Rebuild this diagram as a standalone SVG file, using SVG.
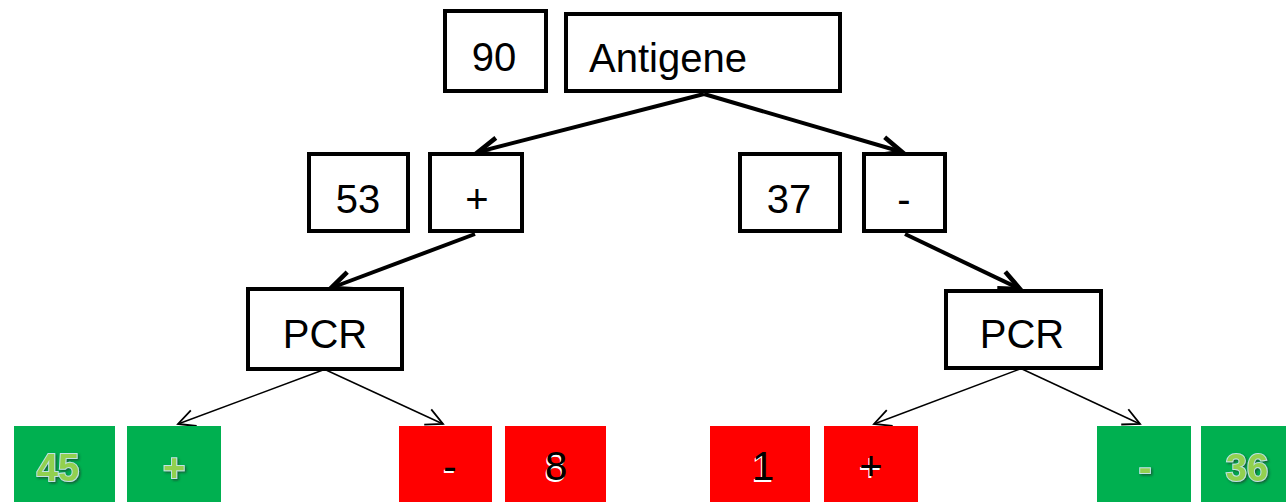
<svg xmlns="http://www.w3.org/2000/svg" width="1286" height="502" viewBox="0 0 1286 502">
  <defs>
    <style>
      .box { fill: #ffffff; stroke: #000000; stroke-width: 4; }
      .lbl { font-family: "Liberation Sans", Arial, sans-serif; font-size: 40px; fill: #000000; }
      .mid { text-anchor: middle; }
      .pos { fill: #00B050; }
      .neg { fill: #FF0000; }
      .gtxt { font-family: "Liberation Sans", Arial, sans-serif; font-size: 38px; font-weight: bold; text-anchor: middle; fill: #92D050; stroke: #BFE3E6; stroke-width: 2; paint-order: stroke; filter: url(#shadow); }
      .rtxt { font-family: "Liberation Sans", Arial, sans-serif; font-size: 40px; text-anchor: middle; fill: #000000; }
      .rsh { font-family: "Liberation Sans", Arial, sans-serif; font-size: 40px; text-anchor: middle; fill: #ffffff; }
      .thick { stroke: #000000; stroke-width: 4; fill: none; marker-end: url(#headThick); }
      .thin { stroke: #000000; stroke-width: 1.5; fill: none; marker-end: url(#headThin); }
    </style>
    <filter id="shadow" x="-20%" y="-20%" width="140%" height="140%">
      <feDropShadow dx="1.5" dy="1.5" stdDeviation="0.8" flood-color="#1a4d2e" flood-opacity="0.8"/>
    </filter>
    <marker id="headThick" markerUnits="userSpaceOnUse" markerWidth="30" markerHeight="30" refX="0" refY="0" viewBox="-22 -12 26 24" orient="auto">
      <path d="M -18 -8 L 0 0 L -18 8" fill="none" stroke="#000" stroke-width="4"/>
    </marker>
    <marker id="headThin" markerUnits="userSpaceOnUse" markerWidth="24" markerHeight="24" refX="0" refY="0" viewBox="-18 -10 20 20" orient="auto">
      <path d="M -14 -7 L 0 0 L -14 7" fill="none" stroke="#000" stroke-width="1.5"/>
    </marker>
  </defs>

  <g id="connectors">
    <line class="thick" x1="704" y1="94" x2="478" y2="152"/>
    <line class="thick" x1="704" y1="94" x2="902" y2="152"/>
    <line class="thick" x1="475" y1="234" x2="331" y2="288"/>
    <line class="thick" x1="905" y1="234" x2="1020" y2="289"/>
    <line class="thin" x1="323" y1="370" x2="178" y2="424"/>
    <line class="thin" x1="326" y1="370" x2="443" y2="424"/>
    <line class="thin" x1="1020" y1="369" x2="874" y2="424"/>
    <line class="thin" x1="1022" y1="369" x2="1140" y2="424"/>
  </g>

  <g id="n-total">
    <rect class="box" x="445" y="11" width="101" height="80"/>
    <text class="lbl mid" x="494" y="71">90</text>
  </g>
  <g id="n-antigene">
    <rect class="box" x="566" y="14" width="274" height="77"/>
    <text class="lbl" x="589" y="72">Antigene</text>
  </g>

  <g id="n-count-pos">
    <rect class="box" x="309" y="154" width="99" height="77"/>
    <text class="lbl mid" x="358" y="213">53</text>
  </g>
  <g id="n-pos">
    <rect class="box" x="430" y="154" width="92" height="77"/>
    <text class="lbl mid" x="477" y="213">+</text>
  </g>
  <g id="n-count-neg">
    <rect class="box" x="740" y="154" width="100" height="77"/>
    <text class="lbl mid" x="789" y="213">37</text>
  </g>
  <g id="n-neg">
    <rect class="box" x="864" y="154" width="81" height="77"/>
    <text class="lbl mid" x="904" y="213">-</text>
  </g>

  <g id="n-pcr-left">
    <rect class="box" x="248" y="289" width="154" height="80"/>
    <text class="lbl mid" x="325" y="348">PCR</text>
  </g>
  <g id="n-pcr-right">
    <rect class="box" x="946" y="291" width="155" height="77"/>
    <text class="lbl mid" x="1022" y="348">PCR</text>
  </g>

  <g id="r-45">
    <rect class="pos" x="14" y="426" width="101" height="76"/>
    <text class="gtxt" x="58" y="481">45</text>
  </g>
  <g id="r-pos-pos">
    <rect class="pos" x="127" y="426" width="94" height="76"/>
    <text class="gtxt" x="174" y="481">+</text>
  </g>
  <g id="r-pos-neg">
    <rect class="neg" x="399" y="426" width="93" height="76"/>
    <text class="rsh" x="449" y="482">-</text>
    <text class="rtxt" x="450" y="480">-</text>
  </g>
  <g id="r-8">
    <rect class="neg" x="505" y="426" width="101" height="76"/>
    <text class="rsh" x="555" y="482">8</text>
    <text class="rtxt" x="556" y="480">8</text>
  </g>
  <g id="r-1">
    <rect class="neg" x="710" y="426" width="100" height="76"/>
    <text class="rsh" x="762" y="482">1</text>
    <text class="rtxt" x="763" y="480">1</text>
  </g>
  <g id="r-neg-pos">
    <rect class="neg" x="824" y="426" width="94" height="76"/>
    <text class="rsh" x="870" y="482">+</text>
    <text class="rtxt" x="871" y="480">+</text>
  </g>
  <g id="r-neg-neg">
    <rect class="pos" x="1097" y="426" width="94" height="76"/>
    <text class="gtxt" x="1145" y="481">-</text>
  </g>
  <g id="r-36">
    <rect class="pos" x="1201" y="426" width="85" height="76"/>
    <text class="gtxt" x="1247" y="481">36</text>
  </g>
</svg>
